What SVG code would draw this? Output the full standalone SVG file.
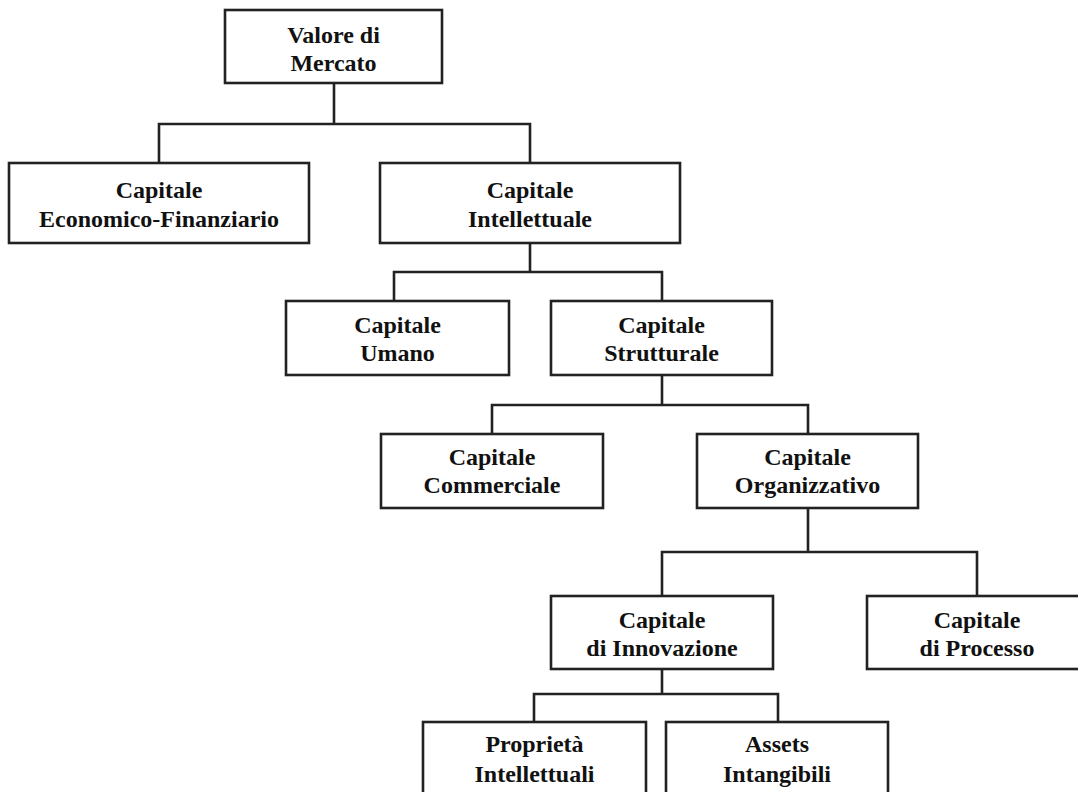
<svg xmlns="http://www.w3.org/2000/svg" width="1078" height="792" viewBox="0 0 1078 792">
<style>
.box{fill:#fff;stroke:#222;stroke-width:2.6}
.lbl{font-family:"Liberation Serif","Times New Roman",serif;font-weight:bold;font-size:24px;fill:#111;text-anchor:middle}
.con{fill:none;stroke:#222;stroke-width:2.6}
</style>
<rect width="1078" height="792" fill="#fff"/>
<g id="connectors">
<path class="con" d="M334 83V124M159 163V124H530V163"/>
<path class="con" d="M530 243V272M394 301V272H662V301"/>
<path class="con" d="M662 375V405M492 434V405H808V434"/>
<path class="con" d="M808 508V552M662 596V552H977V596"/>
<path class="con" d="M662 669V694M534 722V694H778V722"/>
</g>
<g id="valore">
<rect class="box" x="225" y="10" width="217" height="73"/>
<text class="lbl" x="333.5" y="43">Valore di</text>
<text class="lbl" x="333.5" y="71">Mercato</text>
</g>
<g id="economico">
<rect class="box" x="9" y="163" width="300" height="80"/>
<text class="lbl" x="159" y="198">Capitale</text>
<text class="lbl" x="159" y="227">Economico-Finanziario</text>
</g>
<g id="intellettuale">
<rect class="box" x="380" y="163" width="300" height="80"/>
<text class="lbl" x="530" y="198">Capitale</text>
<text class="lbl" x="530" y="227">Intellettuale</text>
</g>
<g id="umano">
<rect class="box" x="286" y="301" width="223" height="74"/>
<text class="lbl" x="397.5" y="333">Capitale</text>
<text class="lbl" x="397.5" y="361">Umano</text>
</g>
<g id="strutturale">
<rect class="box" x="551" y="301" width="221" height="74"/>
<text class="lbl" x="661.5" y="333">Capitale</text>
<text class="lbl" x="661.5" y="361">Strutturale</text>
</g>
<g id="commerciale">
<rect class="box" x="381" y="434" width="222" height="74"/>
<text class="lbl" x="492" y="465">Capitale</text>
<text class="lbl" x="492" y="493">Commerciale</text>
</g>
<g id="organizzativo">
<rect class="box" x="697" y="434" width="221" height="74"/>
<text class="lbl" x="807.5" y="465">Capitale</text>
<text class="lbl" x="807.5" y="493">Organizzativo</text>
</g>
<g id="innovazione">
<rect class="box" x="551" y="596" width="222" height="73"/>
<text class="lbl" x="662" y="628">Capitale</text>
<text class="lbl" x="662" y="656">di Innovazione</text>
</g>
<g id="processo">
<rect class="box" x="867" y="596" width="220" height="73"/>
<text class="lbl" x="977" y="628">Capitale</text>
<text class="lbl" x="977" y="656">di Processo</text>
</g>
<g id="proprieta">
<rect class="box" x="423" y="722" width="223" height="90"/>
<text class="lbl" x="534.5" y="752">Proprietà</text>
<text class="lbl" x="534.5" y="782">Intellettuali</text>
</g>
<g id="assets">
<rect class="box" x="666" y="722" width="222" height="90"/>
<text class="lbl" x="777" y="752">Assets</text>
<text class="lbl" x="777" y="782">Intangibili</text>
</g>
</svg>
